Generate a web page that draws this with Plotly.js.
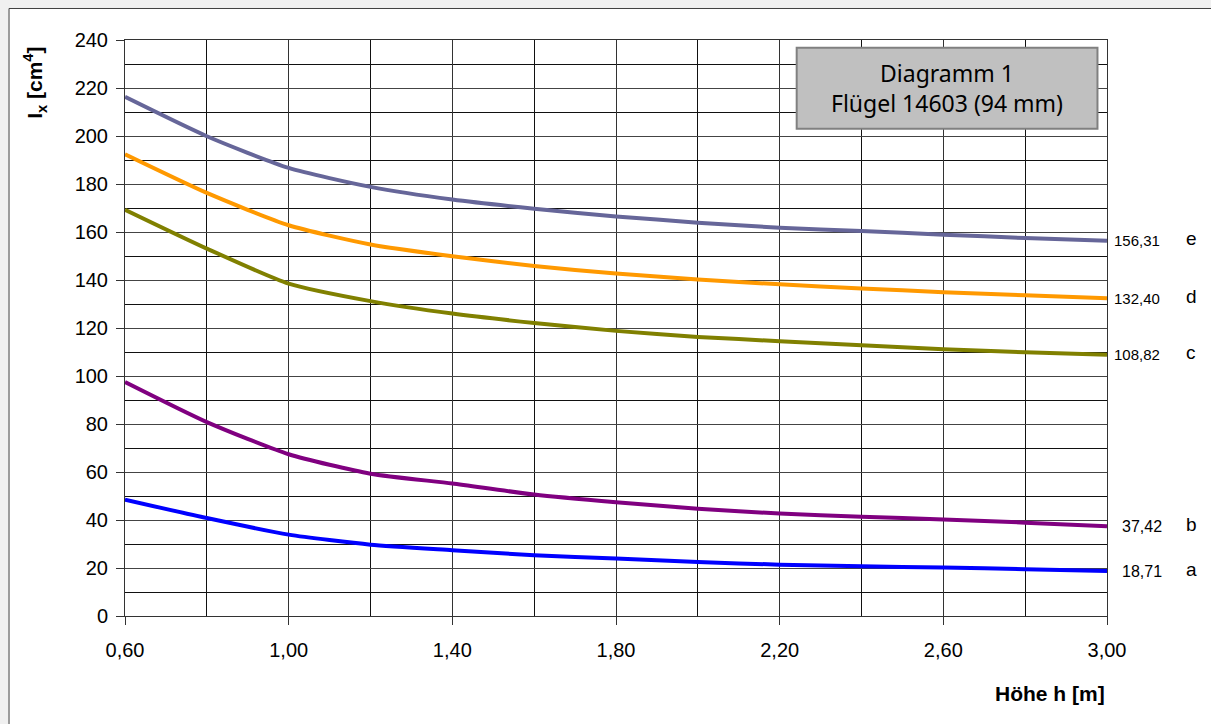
<!DOCTYPE html>
<html>
<head>
<meta charset="utf-8">
<script src="https://cdn.plot.ly/plotly-3.0.1.min.js"></script>
<style>
html,body{margin:0;padding:0;background:#f0f0f0;}
#chart{width:1211px;height:724px;}
</style>
</head>
<body>
<div id="chart"></div>
<script>
// ---- data ----
var hoehe = [0.6, 0.8, 1.0, 1.2, 1.4, 1.6, 1.8, 2.0, 2.2, 2.4, 2.6, 2.8, 3.0];
var serieE = [216.3, 199.9, 186.7, 178.8, 173.5, 169.7, 166.5, 163.9, 161.8, 160.4, 158.9, 157.5, 156.31];
var serieD = [192.4, 176.3, 162.8, 154.8, 149.9, 145.8, 142.7, 140.2, 138.2, 136.5, 134.9, 133.6, 132.40];
var serieC = [169.3, 153.1, 138.5, 131.2, 126.0, 122.1, 118.8, 116.3, 114.5, 112.8, 111.1, 109.9, 108.82];
var serieB = [97.5, 80.8, 67.4, 59.3, 55.2, 50.6, 47.4, 44.7, 42.7, 41.4, 40.2, 38.9, 37.42];
var serieA = [48.5, 40.8, 33.9, 29.7, 27.4, 25.3, 24.0, 22.5, 21.4, 20.7, 20.2, 19.5, 18.71];
var seriesNames = ['e', 'd', 'c', 'b', 'a'];
var seriesValues = [serieE, serieD, serieC, serieB, serieA];
var seriesColors = ['#666699', '#FF9900', '#808000', '#800080', '#0000FF'];
var valueLabelShift = [5, 5, 5, 13, 13];
var valueLabelSize = [15, 15, 15, 16, 16];
var boxLines = ['Diagramm 1', 'Flügel 14603 (94 mm)'];
var xTitle = 'Höhe h [m]';
var yTitle = 'I<sub>x</sub> [cm<sup>4</sup>]';

// ---- figure ----
var traces = seriesValues.map(function (vals, i) {
  return {
    x: hoehe, y: vals, name: seriesNames[i], type: 'scatter', mode: 'lines',
    line: {color: seriesColors[i], width: 4, shape: 'spline', smoothing: 0.6},
    hoverinfo: 'x+y'
  };
});

var fmt = function (v) { return v.toFixed(2).replace('.', ','); };
var annotations = [];
seriesValues.forEach(function (vals, i) {
  var last = vals[vals.length - 1];
  annotations.push({
    x: hoehe[hoehe.length - 1], y: last, xref: 'x', yref: 'y',
    text: fmt(last), showarrow: false, xanchor: 'left', yanchor: 'middle',
    xshift: valueLabelShift[i], align: 'left',
    font: {family: 'Liberation Sans, Arial, sans-serif', size: valueLabelSize[i], color: '#000'}
  });
  annotations.push({
    x: hoehe[hoehe.length - 1], y: last, xref: 'x', yref: 'y',
    text: seriesNames[i], showarrow: false, xanchor: 'left', yanchor: 'middle',
    xshift: 77, yshift: 2,
    font: {family: 'Liberation Sans, Arial, sans-serif', size: 19, color: '#000'}
  });
});
annotations.push({
  x: 0.8372, y: 0.9162, xref: 'paper', yref: 'paper',
  text: boxLines.join('<br>'), showarrow: false, xanchor: 'center', yanchor: 'middle',
  font: {family: 'Noto Sans, Open Sans, sans-serif', size: 23, color: '#000'}
});
annotations.push({
  x: 1.0005, y: -0.134, xref: 'paper', yref: 'paper',
  text: '<b>' + xTitle + '</b>', showarrow: false, xanchor: 'right', yanchor: 'middle',
  font: {family: 'Liberation Sans, Arial, sans-serif', size: 21, color: '#000'}
});
annotations.push({
  x: -0.092, y: 0.925, xref: 'paper', yref: 'paper',
  text: '<b>' + yTitle + '</b>', showarrow: false, textangle: -90,
  xanchor: 'center', yanchor: 'middle',
  font: {family: 'Liberation Sans, Arial, sans-serif', size: 21, color: '#000'}
});

var layout = {
  width: 1211, height: 724,
  margin: {l: 125, r: 103.5, t: 39.5, b: 108.3, pad: 0},
  paper_bgcolor: '#f0f0f0', plot_bgcolor: '#ffffff',
  showlegend: false,
  separators: ',.',
  font: {family: 'Liberation Sans, Arial, sans-serif', size: 20, color: '#000'},
  xaxis: {
    range: [0.6, 3.0], tick0: 0.6, dtick: 0.4, tickformat: '.2f',
    ticks: 'outside', ticklen: 8, tickcolor: '#333', tickwidth: 1,
    ticklabelstandoff: 8,
    showgrid: true, gridcolor: '#333', gridwidth: 1,
    minor: {dtick: 0.2, tick0: 0.6, showgrid: true, gridcolor: '#111', gridwidth: 1, ticks: ''},
    showline: true, linecolor: '#333', linewidth: 1, mirror: true,
    zeroline: false, fixedrange: true,
    tickfont: {size: 20}
  },
  yaxis: {
    range: [0, 240], tick0: 0, dtick: 20,
    ticks: 'outside', ticklen: 8, tickcolor: '#333', tickwidth: 1,
    ticklabelstandoff: 4,
    showgrid: true, gridcolor: '#444', gridwidth: 1,
    minor: {dtick: 10, showgrid: true, gridcolor: '#111', gridwidth: 1, ticks: ''},
    showline: true, linecolor: '#333', linewidth: 1, mirror: true,
    zeroline: false, fixedrange: true,
    tickfont: {size: 20}
  },
  shapes: [
    {type: 'rect', xref: 'paper', yref: 'paper', layer: 'below',
     x0: -0.1181, x1: 1.12, y0: -0.22, y1: 1.0547,
     fillcolor: '#ffffff', line: {color: '#404040', width: 1}},
    {type: 'rect', xref: 'paper', yref: 'paper', layer: 'above',
     x0: 0.684, x1: 0.9903, y0: 0.8459, y1: 0.9865,
     fillcolor: '#c0c0c0', line: {color: '#808080', width: 2}}
  ],
  annotations: annotations
};

Plotly.newPlot('chart', traces, layout, {displayModeBar: false, staticPlot: true});
</script>
</body>
</html>
